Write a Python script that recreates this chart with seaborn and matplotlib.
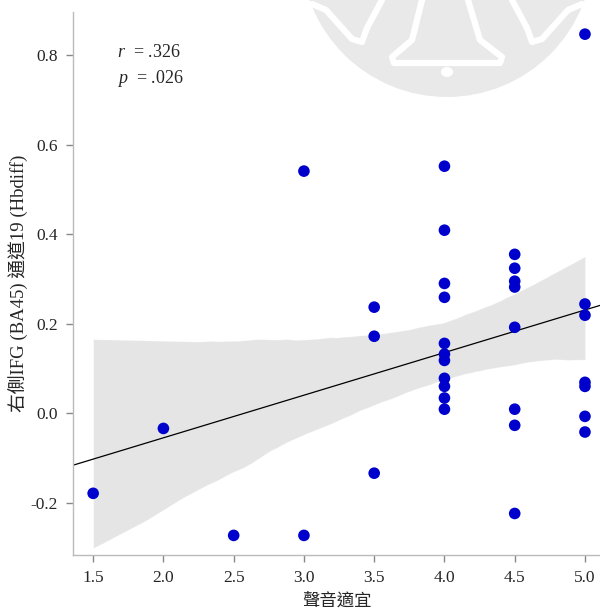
import numpy as np
import pandas as pd
import seaborn as sns
import matplotlib.pyplot as plt
from matplotlib.patches import Ellipse

# 資料
sound_x = [1.5, 2.0, 2.5,
           3.0, 3.0,
           3.5, 3.5, 3.5,
           4.0, 4.0, 4.0, 4.0, 4.0, 4.0, 4.0, 4.0, 4.0, 4.0, 4.0,
           4.5, 4.5, 4.5, 4.5, 4.5, 4.5, 4.5, 4.5,
           5.0, 5.0, 5.0, 5.0, 5.0, 5.0, 5.0]
hb_y = [-0.179, -0.034, -0.273,
        -0.273, 0.541,
        0.237, 0.172, -0.134,
        0.552, 0.409, 0.290, 0.259, 0.156, 0.132, 0.118, 0.078, 0.060, 0.034, 0.009,
        0.355, 0.324, 0.295, 0.282, 0.192, 0.009, -0.027, -0.224,
        0.847, 0.244, 0.219, 0.069, 0.060, -0.007, -0.042]
xticks = [1.5, 2.0, 2.5, 3.0, 3.5, 4.0, 4.5, 5.0]
yticks = [-0.2, 0.0, 0.2, 0.4, 0.6, 0.8]
stats_txt = ["$r$  = .326", "$p$  = .026"]

df = pd.DataFrame({"x": sound_x, "y": hb_y})

sns.set_style("white")
plt.rcParams['font.family'] = ['Liberation Serif', 'Noto Sans CJK TC']
plt.rcParams['mathtext.fontset'] = 'custom'
plt.rcParams['mathtext.it'] = 'Liberation Serif:italic'
plt.rcParams['mathtext.rm'] = 'Liberation Serif'

W, H = 600, 612
fig = plt.figure(figsize=(6, 6.12), dpi=100)
ax = fig.add_axes([0.122, 0.093, 0.878, 0.887])
ax.patch.set_alpha(0)

# watermark (school logo) behind the plot
fig.patches.append(Ellipse((447 / W, 1 + 49 / H), 2 * 146 / W, 2 * 146 / H,
                           transform=fig.transFigure, facecolor="#e9e9e9",
                           edgecolor="none", zorder=-5))
bell_lines = [
    [(422, 0), (412, 40), (392, 57), (394, 63), (500, 63), (502, 57), (480, 40), (468, 0)],
    [(312, 4), (326, 10), (352, 39), (362, 42), (367, 28), (382, 0)],
    [(582, 4), (568, 10), (542, 39), (532, 42), (527, 28), (512, 0)],
]
for pts in bell_lines:
    xs = [p[0] / W for p in pts]
    ys = [1 - p[1] / H for p in pts]
    fig.add_artist(plt.Line2D(xs, ys, transform=fig.transFigure, color="white",
                              linewidth=4.5, solid_capstyle="round",
                              solid_joinstyle="round", zorder=-4))
fig.patches.append(Ellipse((447 / W, 1 - 72 / H), 12 / W, 10 / H, transform=fig.transFigure,
                           facecolor="white", edgecolor="none", zorder=-4))

ax.set_xlim(1.358, 5.107)
ax.set_ylim(-0.317, 0.896)

# CI band only over data range
sns.regplot(data=df, x="x", y="y", scatter=False, truncate=True, ci=92, seed=0, ax=ax,
            line_kws={"color": "#555555", "linewidth": 0})
# fitted line over whole axis
sns.regplot(data=df, x="x", y="y", scatter=False, truncate=False, ci=None, ax=ax,
            line_kws={"color": "black", "linewidth": 0.9})
sns.scatterplot(data=df, x="x", y="y", color="#0000cc", s=70, edgecolor="none", ax=ax, zorder=3)

ax.set_xlim(1.358, 5.107)
ax.set_ylim(-0.317, 0.896)
ax.set_xticks(xticks)
ax.set_xticklabels([f"{v:.1f}" for v in xticks])
ax.set_yticks(yticks)
ax.set_yticklabels([f"{v:.1f}" for v in yticks])
ax.tick_params(axis="both", direction="out", length=5, width=1, color="#888888",
               labelsize=12.5, pad=6, bottom=True, left=True)

for s in ["top", "right"]:
    ax.spines[s].set_visible(False)
for s in ["left", "bottom"]:
    ax.spines[s].set_color("#bbbbbb")
    ax.spines[s].set_linewidth(1)

ax.set_xlabel("聲音適宜", fontsize=12.5, labelpad=5)
ax.set_ylabel("右側IFG (BA45) 通道19 (Hbdiff)", fontsize=13.5, labelpad=1)

ax.text(0.083, 0.926, stats_txt[0], transform=ax.transAxes, fontsize=13, va="center")
ax.text(0.083, 0.878, stats_txt[1], transform=ax.transAxes, fontsize=13, va="center")

fig.savefig("out.png", dpi=100)
